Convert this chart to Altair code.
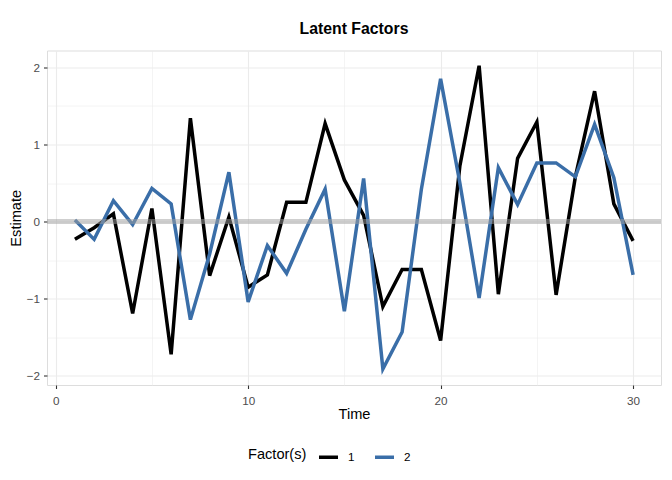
import altair as alt
import pandas as pd

time = list(range(1, 31))
factor1 = [-0.23, -0.08, 0.10, -1.19, 0.17, -1.72, 1.34, -0.70, 0.06, -0.85,
           -0.69, 0.25, 0.25, 1.27, 0.54, 0.08, -1.10, -0.62, -0.62, -1.54,
           0.72, 2.02, -0.94, 0.82, 1.29, -0.95, 0.58, 1.69, 0.23, -0.25]
factor2 = [0.02, -0.23, 0.27, -0.04, 0.43, 0.23, -1.27, -0.42, 0.64, -1.04,
           -0.31, -0.67, -0.10, 0.42, -1.16, 0.56, -1.91, -1.43, 0.42, 1.85,
           0.50, -0.99, 0.70, 0.22, 0.76, 0.76, 0.58, 1.26, 0.57, -0.69]
factor_names = ["1", "2"]
colors = ["#000000", "#3a6ea8"]

df = pd.DataFrame({
    "Time": time * 2,
    "Estimate": factor1 + factor2,
    "Factor(s)": [factor_names[0]] * 30 + [factor_names[1]] * 30,
})

xvals = [0, 5, 10, 15, 20, 25, 30]
yvals = [-2, -1.5, -1, -0.5, 0, 0.5, 1, 1.5, 2]
ydom = [-2.117, 2.217]

x = alt.X("Time:Q", title="Time",
          scale=alt.Scale(domain=[-0.45, 31.45], nice=False, zero=False),
          axis=alt.Axis(values=xvals,
                        labelExpr="datum.value % 10 == 0 ? format(datum.value, 'd') : ''",
                        tickOpacity=alt.ExprRef("datum.value % 10 == 0 ? 1 : 0"),
                        gridWidth=alt.ExprRef("datum.value % 10 == 0 ? 1.1 : 0.55"),
                        gridColor="#ebebeb", tickColor="#333333", tickSize=3.5, tickWidth=1.1,
                        labelColor="#4d4d4d", labelFontSize=11.7, labelPadding=6.5,
                        titleFontSize=14.6, titleFontWeight="normal", titleColor="#000000",
                        titlePadding=0, domain=False))
y = alt.Y("Estimate:Q", title="Estimate",
          scale=alt.Scale(domain=ydom, nice=False, zero=False),
          axis=alt.Axis(values=yvals,
                        labelExpr="datum.value % 1 == 0 ? format(datum.value, 'd') : ''",
                        tickOpacity=alt.ExprRef("datum.value % 1 == 0 ? 1 : 0"),
                        gridWidth=alt.ExprRef("datum.value % 1 == 0 ? 1.1 : 0.55"),
                        gridColor="#ebebeb", tickColor="#333333", tickSize=3.5, tickWidth=1.1,
                        labelColor="#4d4d4d", labelFontSize=11.7, labelPadding=4,
                        titleFontSize=14.6, titleFontWeight="normal", titleColor="#000000",
                        titlePadding=2.5, domain=False))

zero = alt.Chart(pd.DataFrame({"y": [0]})).mark_rule(
    color="#a0a0a0", strokeWidth=5, opacity=0.5
).encode(y=alt.Y("y:Q", scale=alt.Scale(domain=ydom, nice=False, zero=False)))

lines = alt.Chart(df).mark_line(strokeWidth=3.5).encode(
    x=x, y=y,
    color=alt.Color("Factor(s):N",
                    scale=alt.Scale(domain=factor_names, range=colors),
                    legend=alt.Legend(orient="none", legendX=201, legendY=395,
                                      direction="horizontal", padding=0,
                                      titleOrient="left", title="Factor(s)",
                                      titleFontSize=14.6, titleFontWeight="normal",
                                      titleColor="#000000", labelFontSize=11.7,
                                      labelColor="#000000", symbolType="stroke",
                                      symbolStrokeWidth=3.5, symbolSize=361,
                                      labelOffset=8, titlePadding=10, columnPadding=13))
)

chart = alt.layer(lines, zero).properties(
    width=656, height=462,
    autosize=alt.AutoSizeParams(type="fit", contains="padding"),
    padding={"left": 0, "top": 12.5, "right": 0, "bottom": 48},
    title=alt.Title("Latent Factors", fontSize=15.8, fontWeight="bold", color="#000000",
                    anchor="middle", offset=12.5),
).configure_view(stroke="#333333", strokeWidth=1.1).configure(
    font="Liberation Sans"
).configure_axis(labelFont="Liberation Sans", titleFont="Liberation Sans")

chart.save("out.html", embed_options={"renderer": "svg", "actions": False})
